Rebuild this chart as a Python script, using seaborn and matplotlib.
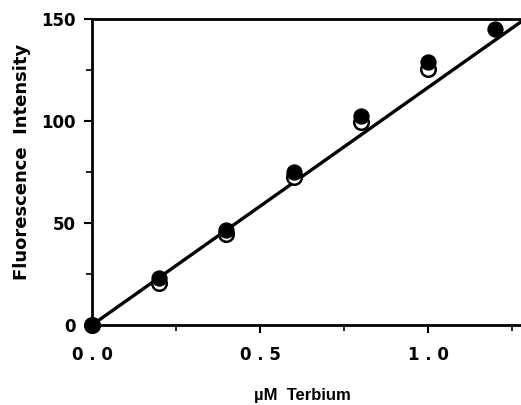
import matplotlib
matplotlib.use("Agg")
import matplotlib.pyplot as plt
import seaborn as sns
import pandas as pd
from matplotlib.ticker import MultipleLocator

# Data
tb_filled = [0.0, 0.2, 0.4, 0.6, 0.8, 1.0, 1.2]
fl_filled = [0.0, 23.0, 46.6, 75.0, 102.4, 129.0, 145.0]
tb_open = [0.0, 0.2, 0.4, 0.6, 0.8, 1.0]
fl_open = [0.0, 20.6, 44.6, 72.5, 99.5, 125.5]
fit_x = [0.0, 1.28]
fit_y = [0.0, 149.0]

sns.set_theme(style="ticks")
plt.rcParams['font.family'] = ['Liberation Sans', 'DejaVu Sans']
for k in ["text.color", "axes.labelcolor", "xtick.color", "ytick.color", "axes.edgecolor"]:
    plt.rcParams[k] = "black"

fig = plt.figure(figsize=(5.21, 4.05), dpi=100)
ax = fig.add_axes([0.1766, 0.1975, 0.8234, 0.7555])

df_fit = pd.DataFrame({"x": fit_x, "y": fit_y})
sns.lineplot(data=df_fit, x="x", y="y", ax=ax, color="black", lw=2.4)
df_open = pd.DataFrame({"x": tb_open, "y": fl_open})
sns.scatterplot(data=df_open, x="x", y="y", ax=ax, s=110, facecolor="white",
                edgecolor="black", linewidth=1.8, zorder=3)
df_f = pd.DataFrame({"x": tb_filled, "y": fl_filled})
sns.scatterplot(data=df_f, x="x", y="y", ax=ax, s=115, color="black",
                edgecolor="black", linewidth=1.0, zorder=4)

ax.set_xlim(0, 1.277)
ax.set_ylim(0, 150)
ax.xaxis.set_minor_locator(MultipleLocator(0.25))
ax.yaxis.set_major_locator(MultipleLocator(50))
ax.yaxis.set_minor_locator(MultipleLocator(25))
ax.set_xticks([0, 0.5, 1.0])
ax.set_xticklabels(["0 . 0", "0 . 5", "1 . 0"])
for s in ["left", "bottom", "top"]:
    ax.spines[s].set_linewidth(2.0)
    ax.spines[s].set_color("black")
ax.spines["right"].set_visible(False)
ax.tick_params(which="major", direction="out", length=6, width=1.5, colors="black",
               pad=6)
ax.tick_params(which="minor", direction="out", length=4, width=1.2, colors="black")
ax.tick_params(axis="x", which="major", pad=9)
for lab in ax.get_xticklabels() + ax.get_yticklabels():
    lab.set_fontfamily("DejaVu Sans")
    lab.set_fontweight("bold")
    lab.set_fontsize(12)

ax.set_xlabel("µM  Terbium", fontsize=12, fontweight="bold", va="center")
ax.xaxis.set_label_coords(0.49, -0.229)
ax.set_ylabel("Fluorescence  Intensity", fontsize=13, fontweight="bold",
              family="DejaVu Sans", va="center")
ax.yaxis.set_label_coords(-0.163, 0.533)
for c in ax.collections:
    c.set_clip_on(False)

fig.savefig("out.png", dpi=100)
